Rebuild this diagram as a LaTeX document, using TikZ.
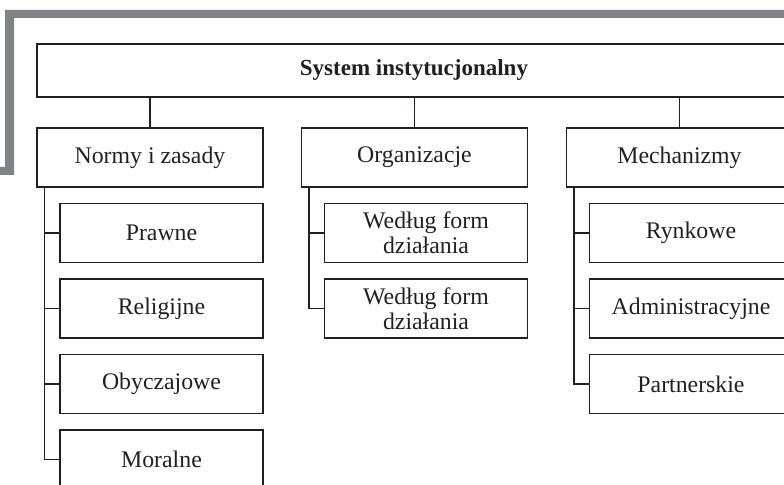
\documentclass[tikz,border=0pt]{standalone}
\usepackage{fontspec}
\setmainfont{Liberation Serif}
\definecolor{framegray}{RGB}{128,130,133}
\definecolor{ink}{RGB}{35,31,32}

\begin{document}
\begin{tikzpicture}[x=0.5pt, y=-0.5pt, node distance=37.75pt, line width=0.6pt, draw=ink, text=ink,
    font=\fontsize{11.9}{12.5}\selectfont,
    catbox/.style={rectangle, draw=ink, minimum width=113pt, minimum height=29.5pt, inner sep=0pt},
    itembox/.style={rectangle, draw=ink, minimum width=101.5pt, minimum height=29.5pt, inner sep=0pt, align=center}]
  \clip (0,0) rectangle (784,485);
  \fill[framegray] (0,167) -- (5,167) -- (5,10) -- (790,10) -- (790,18) -- (14,18) -- (14,175) -- (0,175) -- cycle;

  \node[catbox, minimum width=377pt, minimum height=26.5pt, font=\fontsize{11.5}{12}\selectfont\bfseries] (system) at (414,70.5) {System instytucjonalny};
  \node[catbox] (normy) at (150,157.5) {Normy i zasady};
  \node[catbox, node distance=132.25pt, right of=normy] (org) {Organizacje};
  \node[catbox, node distance=132.5pt, right of=org] (mech) {Mechanizmy};

  \node[itembox, below of=normy, xshift=5.75pt] (prawne) {Prawne};
  \node[itembox, below of=prawne] (religijne) {Religijne};
  \node[itembox, below of=religijne] (obyczajowe) {Obyczajowe};
  \node[itembox, below of=obyczajowe] (moralne) {Moralne};

  \node[itembox, below of=org, xshift=5.75pt] (formy1) {Według form\\działania};
  \node[itembox, below of=formy1] (formy2) {Według form\\działania};

  \node[itembox, below of=mech, xshift=5.75pt] (rynkowe) {Rynkowe};
  \node[itembox, below of=rynkowe] (admin) {Administracyjne};
  \node[itembox, below of=admin] (partner) {Partnerskie};

  \foreach \c in {normy, org, mech}
    \draw (system.south -| \c.north) -- (\c.north);

  \draw (normy.south west) ++(4pt,0) |- (moralne.west);
  \draw (org.south west) ++(4pt,0) |- (formy2.west);
  \draw (mech.south west) ++(4pt,0) |- (partner.west);
  \foreach \n in {prawne, religijne, obyczajowe, formy1, rynkowe, admin}
    \draw (\n.west) -- ++(-7.5pt,0);
\end{tikzpicture}
\end{document}
